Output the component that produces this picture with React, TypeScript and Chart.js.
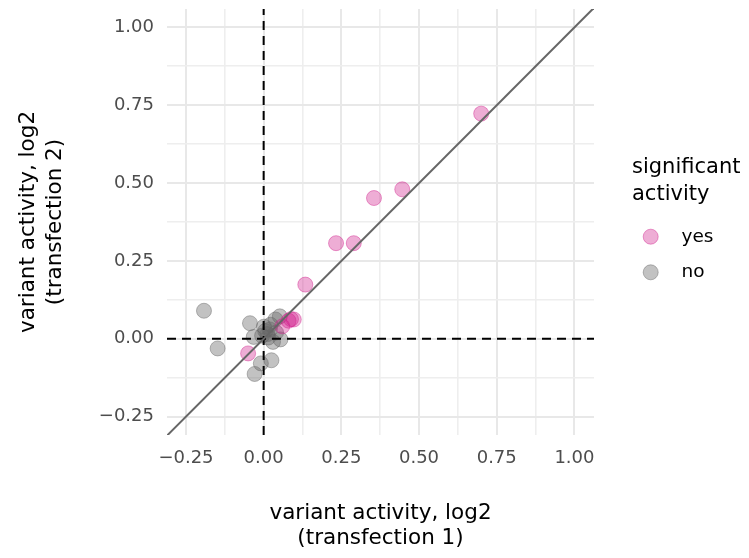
import React, { useEffect, useRef } from "react";
import { Chart, registerables } from "chart.js";

Chart.register(...registerables);

// ---- data ----
const sigYesX = [0.700, 0.446, 0.355, 0.290, 0.233, 0.134, 0.097, 0.088, 0.080, 0.060, -0.050];
const sigYesY = [0.723, 0.480, 0.452, 0.307, 0.307, 0.174, 0.062, 0.063, 0.058, 0.040, -0.047];

const sigNoX = [-0.192, -0.148, -0.044, -0.032, -0.029, -0.009, 0.025, 0.001, 0.005, 0.012, 0.020, 0.015, 0.038, 0.052, 0.054, 0.030, 0.022, 0.040, -0.005];
const sigNoY = [0.090, -0.031, 0.050, 0.006, -0.113, -0.079, -0.069, 0.039, 0.025, 0.015, 0.030, 0.004, 0.062, 0.072, -0.002, -0.010, 0.045, 0.020, 0.010];

const xTickValues = [-0.25, -0.125, 0, 0.125, 0.25, 0.375, 0.5, 0.625, 0.75, 0.875, 1.0];
const yTickValues = [-0.25, -0.125, 0, 0.125, 0.25, 0.375, 0.5, 0.625, 0.75, 0.875, 1.0];
const majorTicks = [-0.25, 0, 0.25, 0.5, 0.75, 1.0];

const X_MIN = -0.311;
const X_MAX = 1.063;
const Y_MIN = -0.309;
const Y_MAX = 1.059;

const xTitle = ["variant activity, log2", "(transfection 1)"];
const yTitle = ["variant activity, log2", "(transfection 2)"];
const legendTitle = ["significant", "activity"];
const legendLabels = ["yes", "no"];

const PINK_FILL = "rgba(208,28,139,0.36)";
const PINK_BORDER = "rgba(208,28,139,0.42)";
const GRAY_FILL = "rgba(102,102,102,0.40)";
const GRAY_BORDER = "rgba(102,102,102,0.45)";
const FONT = "'DejaVu Sans', sans-serif";

const isMajor = (v: number) => majorTicks.some((m) => Math.abs(m - v) < 1e-9);
const fmt = (v: number) => (v < 0 ? "\u2212" + Math.abs(v).toFixed(2) : v.toFixed(2));

const legendPlugin = {
  id: "customLegend",
  afterDraw(chart: any) {
    const ctx = chart.ctx;
    ctx.save();
    ctx.fillStyle = "#000";
    ctx.font = `21px ${FONT}`;
    ctx.textAlign = "left";
    ctx.textBaseline = "alphabetic";
    ctx.fillText(legendTitle[0], 632, 173);
    ctx.fillText(legendTitle[1], 632, 200);
    const keys = [
      { fill: PINK_FILL, border: PINK_BORDER, y: 236.7 },
      { fill: GRAY_FILL, border: GRAY_BORDER, y: 272.3 },
    ];
    ctx.font = `18.5px ${FONT}`;
    ctx.textBaseline = "middle";
    keys.forEach((k, i) => {
      ctx.beginPath();
      ctx.arc(650.7, k.y, 7.5, 0, Math.PI * 2);
      ctx.fillStyle = k.fill;
      ctx.fill();
      ctx.lineWidth = 1;
      ctx.strokeStyle = k.border;
      ctx.stroke();
      ctx.fillStyle = "#000";
      ctx.fillText(legendLabels[i], 681.5, k.y);
    });
    ctx.restore();
  },
};

const zeroPad = (s: any) => {
  s.paddingTop = 0;
  s.paddingBottom = 0;
  s.paddingLeft = 0;
  s.paddingRight = 0;
};

export default function App() {
  const ref = useRef<HTMLCanvasElement | null>(null);
  useEffect(() => {
    if (!ref.current) return;
    const yes = sigYesX.map((x, i) => ({ x, y: sigYesY[i] }));
    const no = sigNoX.map((x, i) => ({ x, y: sigNoY[i] }));
    const chart = new Chart(ref.current, {
      type: "scatter",
      data: {
        datasets: [
          {
            label: "identity",
            data: [
              { x: X_MIN, y: X_MIN },
              { x: X_MAX, y: X_MAX },
            ],
            showLine: true,
            borderColor: "#666666",
            borderWidth: 2,
            pointRadius: 0,
            fill: false,
          },
          {
            label: "vzero",
            data: [
              { x: 0, y: Y_MIN },
              { x: 0, y: Y_MAX },
            ],
            showLine: true,
            borderColor: "#000000",
            borderWidth: 2,
            borderDash: [9, 6],
            pointRadius: 0,
            fill: false,
          },
          {
            label: "hzero",
            data: [
              { x: X_MIN, y: 0 },
              { x: X_MAX, y: 0 },
            ],
            showLine: true,
            borderColor: "#000000",
            borderWidth: 2,
            borderDash: [9, 6],
            pointRadius: 0,
            fill: false,
          },
          {
            label: "yes",
            data: yes,
            backgroundColor: PINK_FILL,
            borderColor: PINK_BORDER,
            borderWidth: 1,
            pointRadius: 7.5,
          },
          {
            label: "no",
            data: no,
            backgroundColor: GRAY_FILL,
            borderColor: GRAY_BORDER,
            borderWidth: 1,
            pointRadius: 7.5,
          },
        ],
      },
      options: {
        animation: false,
        responsive: false,
        events: [],
        layout: { padding: { left: 0, right: 155, top: 9, bottom: 0 } },
        plugins: { legend: { display: false }, tooltip: { enabled: false } },
        scales: {
          x: {
            type: "linear",
            min: X_MIN,
            max: X_MAX,
            afterBuildTicks: (s: any) => {
              s.ticks = xTickValues.map((v) => ({ value: v }));
            },
            afterFit: (s: any) => {
              s.height = 123;
              zeroPad(s);
            },
            border: { display: false },
            grid: {
              drawTicks: false,
              color: (c: any) => (isMajor(c.tick.value) ? "#e8e8e8" : "#eeeeee"),
              lineWidth: (c: any) => (isMajor(c.tick.value) ? 2 : 1.6),
            },
            ticks: {
              padding: 13,
              color: "#4d4d4d",
              font: { family: FONT, size: 18 },
              maxRotation: 0,
              autoSkip: false,
              callback: (v: any) => (isMajor(Number(v)) ? fmt(Number(v)) : ""),
            },
            title: {
              display: true,
              text: xTitle,
              color: "#000",
              font: { family: FONT, size: 21.5, lineHeight: 1.17 },
              padding: { top: 0, bottom: 7 },
            },
          },
          y: {
            type: "linear",
            min: Y_MIN,
            max: Y_MAX,
            afterBuildTicks: (s: any) => {
              s.ticks = yTickValues.map((v) => ({ value: v }));
            },
            afterFit: (s: any) => {
              s.width = 167;
              zeroPad(s);
            },
            border: { display: false },
            grid: {
              drawTicks: false,
              color: (c: any) => (isMajor(c.tick.value) ? "#e8e8e8" : "#eeeeee"),
              lineWidth: (c: any) => (isMajor(c.tick.value) ? 2 : 1.6),
            },
            ticks: {
              padding: 13,
              color: "#4d4d4d",
              font: { family: FONT, size: 18 },
              autoSkip: false,
              callback: (v: any) => (isMajor(Number(v)) ? fmt(Number(v)) : ""),
            },
            title: {
              display: true,
              text: yTitle,
              color: "#000",
              font: { family: FONT, size: 21.5, lineHeight: 1.25 },
              padding: { top: 15, bottom: 0 },
            },
          },
        },
      },
      plugins: [legendPlugin],
    } as any);
    return () => chart.destroy();
  }, []);

  return (
    <div style={{ position: "fixed", left: 0, top: 0, width: 749, height: 558, background: "#fff" }}>
      <canvas ref={ref} width={749} height={558} style={{ display: "block" }} />
    </div>
  );
}
